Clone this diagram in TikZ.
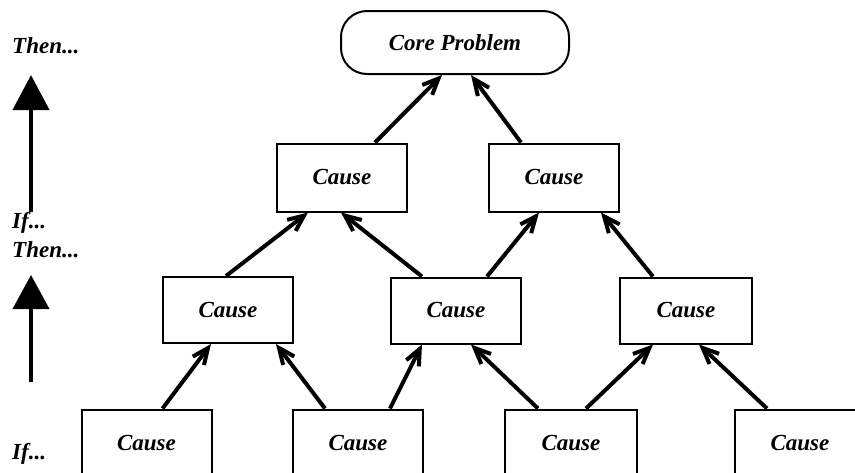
\documentclass[tikz,border=0pt]{standalone}
\usepackage{fontspec}
\setmainfont{Liberation Serif}
\usetikzlibrary{arrows.meta,calc}
\begin{document}
\begin{tikzpicture}[x=1pt,y=-1pt,
  lbl/.style={font=\fontsize{23}{26}\selectfont\bfseries\itshape, inner sep=0pt},
  causebox/.style={draw, line width=2pt, minimum width=130pt, minimum height=67pt, inner sep=0pt, font=\fontsize{23}{26}\selectfont\bfseries\itshape},
  coreshape/.style={draw, line width=2pt, rounded corners=26pt, minimum width=228pt, minimum height=63pt, inner sep=0pt, font=\fontsize{23}{26}\selectfont\bfseries\itshape},
  link/.style={line width=4pt, -{Straight Barb[length=16pt,width=14pt]}},
  bigarrow/.style={line width=4pt, -{Triangle[length=35pt,width=36pt]}}
]
\useasboundingbox (0,0) rectangle (855,472);
\clip (0,0) rectangle (855,472);
\fill[white] (0,0) rectangle (855,472);

% nodes
\node[coreshape] (core) at (455,42.5) {Core Problem};
\node[causebox, minimum height=68pt] (b2a) at (342,177.5) {Cause};
\node[causebox, minimum height=68pt] (b2b) at (554,177.5) {Cause};
\node[causebox, minimum height=66pt] (b3a) at (228,310) {Cause};
\node[causebox, minimum height=66pt] (b3b) at (456,310.5) {Cause};
\node[causebox, minimum height=66pt, minimum width=132pt] (b3c) at (686,310.5) {Cause};
\node[causebox] (b4a) at (146.5,443) {Cause};
\node[causebox] (b4b) at (358,443) {Cause};
\node[causebox, minimum width=132pt] (b4c) at (571,443) {Cause};
\node[causebox] (b4d) at (800,443) {Cause};

% connectors
\draw[link] ($(b2a.north west)+(99,0)$) -- ($(core.south west)+(102,0)$);
\draw[link] ($(b2b.north west)+(33,0)$) -- ($(core.south west)+(131,0)$);
\draw[link] ($(b3a.north west)+(64,0)$) -- ($(b2a.south west)+(32,0)$);
\draw[link] ($(b3b.north west)+(32,0)$) -- ($(b2a.south west)+(65,0)$);
\draw[link] ($(b3b.north west)+(97,0)$) -- ($(b2b.south west)+(51,0)$);
\draw[link] ($(b3c.north west)+(34,0)$) -- ($(b2b.south west)+(113,0)$);
\draw[link] ($(b4a.north west)+(82,0)$) -- ($(b3a.south west)+(49,0)$);
\draw[link] ($(b4b.north west)+(33,0)$) -- ($(b3a.south west)+(114,0)$);
\draw[link] ($(b4b.north west)+(98,0)$) -- ($(b3b.south west)+(32,0)$);
\draw[link] ($(b4c.north west)+(34,0)$) -- ($(b3b.south west)+(81,0)$);
\draw[link] ($(b4c.north west)+(82,0)$) -- ($(b3c.south west)+(34,0)$);
\draw[link] ($(b4d.north west)+(33,0)$) -- ($(b3c.south west)+(80,0)$);

% left side labels
\node[lbl, anchor=base west] (then1) at (12,53) {Then...};
\node[lbl, anchor=base west] (if1) at (12,228) {If...};
\node[lbl, anchor=base west] (then2) at (12,257) {Then...};
\node[lbl, anchor=base west] (if2) at (12,459) {If...};

\coordinate (a1s) at (31,212);
\coordinate (a1t) at (31,75);
\coordinate (a2s) at (31,382);
\coordinate (a2t) at (31,275);
\draw[bigarrow] (a1s) -- (a1t);
\draw[bigarrow, -{Triangle[length=34pt,width=36pt]}] (a2s) -- (a2t);
\end{tikzpicture}
\end{document}
